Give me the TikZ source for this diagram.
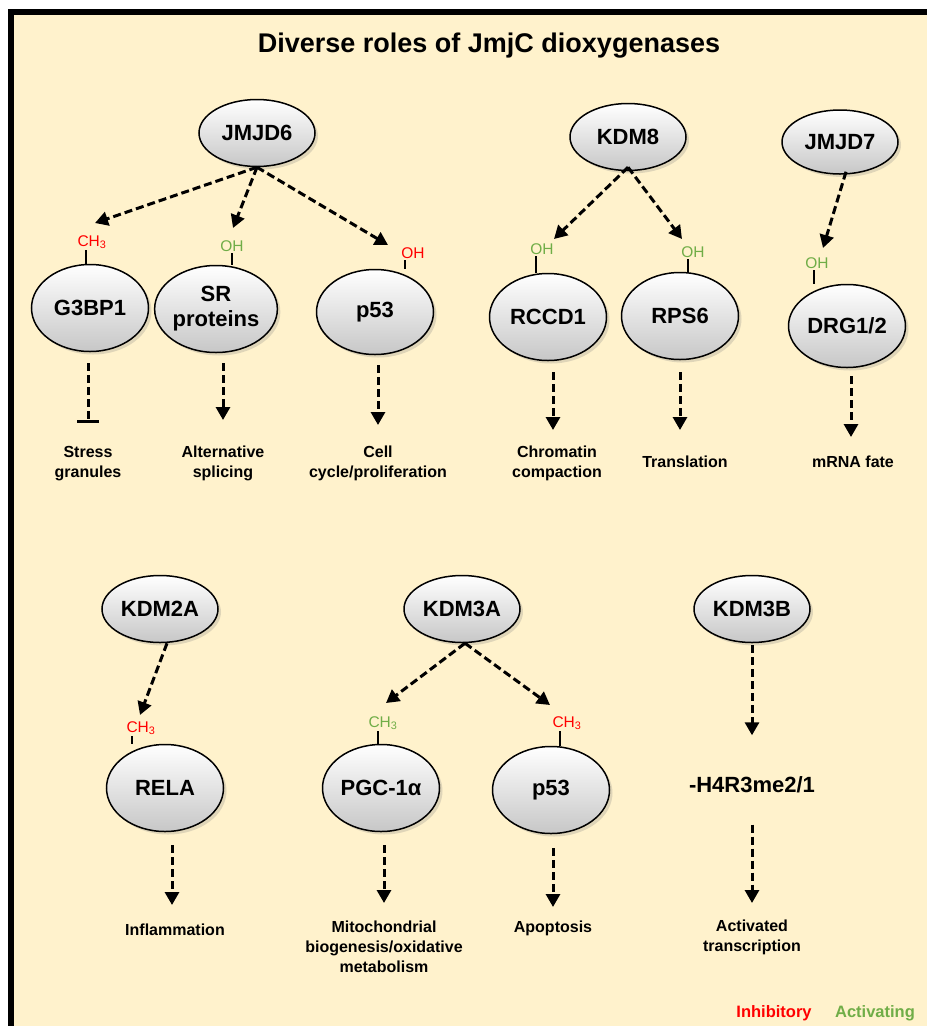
\documentclass[tikz,border=0pt]{standalone}
\usepackage{fontspec}
\setmainfont{Liberation Sans}
\usetikzlibrary{shapes.geometric,arrows.meta,shadows}
\definecolor{paper}{HTML}{FFF2CC}
\definecolor{inhib}{HTML}{FF0000}
\definecolor{activ}{HTML}{70AD47}
\tikzset{
  enzyme/.style={ellipse, draw, line width=1.5pt, minimum width=116pt, minimum height=67pt,
    inner sep=0pt, top color=white, bottom color=black!22,
    drop shadow={shadow xshift=3pt, shadow yshift=-3pt, opacity=0.25},
    font=\fontsize{22}{25}\selectfont\bfseries, align=center},
  target/.style={enzyme, minimum width=117pt, minimum height=87pt},
  modmark/.style={inner sep=1.5pt, font=\fontsize{15.5}{17}\selectfont},
  outcome/.style={anchor=north, inner sep=0pt, align=center, font=\fontsize{16}{20}\selectfont\bfseries},
  dasharrow/.style={line width=3pt, dash pattern=on 8pt off 4pt, -{Triangle[length=13pt,width=14pt]}},
  tick/.style={line width=2pt}
}
\begin{document}
\begin{tikzpicture}[x=1pt,y=-1pt]
\useasboundingbox (0,0) rectangle (927,1026);
\fill[paper] (11,12) rectangle (927,1026);
\draw[line width=6pt] (11,1026) -- (11,12) -- (927,12);

\node[font=\fontsize{27}{32}\selectfont\bfseries] (title) at (489,46) {Diverse roles of JmjC dioxygenases};

% upper row
\node[enzyme] (jmjd6) at (257,133) {JMJD6};
\node[enzyme] (kdm8) at (628,137) {KDM8};
\node[enzyme, minimum height=64pt] (jmjd7) at (840,142) {JMJD7};

\node[target] (g3bp1) at (90,308) {G3BP1};
\node[target] (srp) at (216,309) {SR\\proteins};
\node[target, minimum height=85pt] (p53a) at (375,312) {p53};
\node[target] (rccd1) at (548,317) {RCCD1};
\node[target] (rps6) at (680,316) {RPS6};
\node[target, minimum height=83pt] (drg) at (847,326) {DRG1/2};

\node[modmark, text=inhib] (m1) at (92,242) {CH\textsubscript{3}};
\node[modmark, text=activ] (m2) at (232,246) {OH};
\node[modmark, text=inhib] (m3) at (413,253) {OH};
\node[modmark, text=activ] (m4) at (542,249) {OH};
\node[modmark, text=activ] (m5) at (693,252) {OH};
\node[modmark, text=activ] (m6) at (817,263) {OH};

\draw[tick] ([xshift=-6pt]m1.south) -- ([xshift=-6pt]m1.south |- g3bp1.north);
\draw[tick] (m2.south) -- (m2.south |- srp.north);
\draw[tick] ([xshift=-8pt]m3.south) -- ([xshift=-8pt]m3.south |- p53a.north);
\draw[tick] ([xshift=-6pt]m4.south) -- ([xshift=-6pt]m4.south |- rccd1.north);
\draw[tick] ([xshift=-5pt]m5.south) -- ([xshift=-5pt]m5.south |- rps6.north);
\draw[tick] ([xshift=-3pt]m6.south) -- ([xshift=-3pt]m6.south |- drg.north);

\coordinate (t1) at (95,223);
\coordinate (t2) at (233,228);
\coordinate (t3) at (388,245);
\coordinate (t4) at (554,239);
\coordinate (t5) at (682,239);
\coordinate (t6) at (823,248);
\draw[dasharrow] (jmjd6.south) -- (t1);
\draw[dasharrow] (jmjd6.south) -- (t2);
\draw[dasharrow] (jmjd6.south) -- (t3);
\draw[dasharrow] ([yshift=4pt]kdm8.south) -- (t4);
\draw[dasharrow] ([yshift=4pt]kdm8.south) -- (t5);
\draw[dasharrow] ([xshift=6pt,yshift=3pt]jmjd7.south) -- (t6);

\node[outcome] (stress) at (88,446) {Stress\\granules};
\node[outcome] (altspl) at (223,446) {Alternative\\splicing};
\node[outcome] (cellcyc) at (378,446) {Cell\\cycle/proliferation};
\node[outcome] (chrom) at (557,446) {Chromatin\\compaction};
\node[outcome] (transl) at (685,456) {Translation};
\node[outcome] (mrna) at (853,456) {mRNA fate};

\draw[dasharrow, -{Bar[width=22pt]}, shorten <=11pt, shorten >=23pt] (stress.north |- g3bp1.south) -- (stress.north);
\draw[dasharrow, shorten <=10pt, shorten >=26pt] (altspl.north |- srp.south) -- (altspl.north);
\draw[dasharrow, shorten <=10pt, shorten >=21pt] (cellcyc.north |- p53a.south) -- (cellcyc.north);
\draw[dasharrow, shorten <=11pt, shorten >=16pt] ([xshift=-4pt]chrom.north |- rccd1.south) -- ([xshift=-4pt]chrom.north);
\draw[dasharrow, shorten <=12pt, shorten >=26pt] ([xshift=-5pt]transl.north |- rps6.south) -- ([xshift=-5pt]transl.north);
\draw[dasharrow, shorten <=8pt, shorten >=19pt] ([xshift=-2pt]mrna.north |- drg.south) -- ([xshift=-2pt]mrna.north);

% lower row
\node[enzyme] (kdm2a) at (160,609) {KDM2A};
\node[enzyme] (kdm3a) at (462,609) {KDM3A};
\node[enzyme] (kdm3b) at (752,609) {KDM3B};

\node[target] (rela) at (165,788) {RELA};
\node[target] (pgc) at (381,788) {PGC-1α};
\node[target] (p53b) at (551,790) {p53};
\node[font=\fontsize{22}{25}\selectfont\bfseries] (h4r3) at (752,785) {-H4R3me2/1};

\node[modmark, text=inhib] (m7) at (141,728) {CH\textsubscript{3}};
\node[modmark, text=activ] (m8) at (383,723) {CH\textsubscript{3}};
\node[modmark, text=inhib] (m9) at (567,723) {CH\textsubscript{3}};

\draw[tick] ([xshift=-9pt]m7.south) -- ([xshift=-9pt]m7.south |- rela.north);
\draw[tick] ([xshift=-5pt]m8.south) -- ([xshift=-5pt]m8.south |- pgc.north);
\draw[tick] ([xshift=-7pt]m9.south) -- ([xshift=-7pt]m9.south |- p53b.north);

\coordinate (t7) at (140,715);
\coordinate (t8) at (386,703);
\coordinate (t9) at (550,705);
\draw[dasharrow] ([xshift=7pt]kdm2a.south) -- (t7);
\draw[dasharrow] ([xshift=3pt]kdm3a.south) -- (t8);
\draw[dasharrow] ([xshift=3pt]kdm3a.south) -- (t9);

\node[outcome] (inflam) at (175,924) {Inflammation};
\node[outcome] (mito) at (384,921) {Mitochondrial\\biogenesis/oxidative\\metabolism};
\node[outcome] (apop) at (553,921) {Apoptosis};
\node[outcome] (actv) at (752,920) {Activated\\transcription};

\draw[dasharrow, shorten <=13pt, shorten >=19pt] ([xshift=-3pt]inflam.north |- rela.south) -- ([xshift=-3pt]inflam.north);
\draw[dasharrow, shorten <=13pt, shorten >=18pt] (mito.north |- pgc.south) -- (mito.north);
\draw[dasharrow, shorten <=14pt, shorten >=14pt] (apop.north |- p53b.south) -- (apop.north);
\draw[dasharrow, shorten <=2pt, shorten >=38pt] (kdm3b.south) -- (h4r3.north);
\draw[dasharrow, shorten <=28pt, shorten >=17pt] (h4r3.south) -- (actv.north);

% key
\node[font=\fontsize{16.5}{20}\selectfont\bfseries, text=inhib] (inhkey) at (774,1013) {Inhibitory};
\node[font=\fontsize{16.5}{20}\selectfont\bfseries, text=activ] (actkey) at (875,1013) {Activating};
\end{tikzpicture}
\end{document}
